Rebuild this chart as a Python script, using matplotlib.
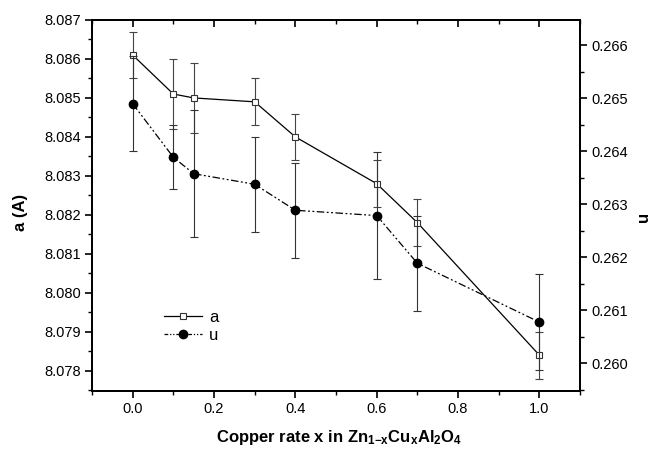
import matplotlib
matplotlib.use("Agg")
import matplotlib.pyplot as plt
from matplotlib.ticker import MultipleLocator, FormatStrFormatter

plt.rcParams['font.family'] = ['Liberation Sans', 'DejaVu Sans']
plt.rcParams['mathtext.fontset'] = 'custom'
plt.rcParams['mathtext.rm'] = 'Liberation Sans:bold'
plt.rcParams['mathtext.bf'] = 'Liberation Sans:bold'
plt.rcParams['mathtext.default'] = 'bf'

# copper rate x
x = [0.0, 0.1, 0.15, 0.3, 0.4, 0.6, 0.7, 1.0]
# lattice parameter a (left axis)
a = [8.0861, 8.0851, 8.0850, 8.0849, 8.0840, 8.0828, 8.0818, 8.0784]
a_err = [0.0006, 0.0009, 0.0009, 0.0006, 0.0006, 0.0006, 0.0006, 0.0006]
# oxygen parameter u (right axis)
u = [0.26490, 0.26389, 0.26358, 0.26338, 0.26289, 0.26279, 0.26189, 0.26078]
u_err = [0.0009, 0.0006, 0.0012, 0.0009, 0.0009, 0.0012, 0.0009, 0.0009]

fig = plt.figure(figsize=(6.54, 4.5), dpi=100)
ax = fig.add_axes([0.1407, 0.1311, 0.7462, 0.8245])
ax2 = ax.twinx()

# series a: open squares, solid line
la = ax.errorbar(x, a, yerr=a_err, color='black', lw=0.9, marker='s', ms=5,
                 mfc='white', mec='#333333', mew=0.8, ecolor='#444444',
                 elinewidth=0.8, capsize=3, capthick=0.8, label='a')
# series u: filled circles, dash-dot-dot line
lu = ax2.errorbar(x, u, yerr=u_err, color='black', lw=0.9, marker='o', ms=6,
                  mfc='black', mec='black', ecolor='#333333',
                  elinewidth=0.8, capsize=3, capthick=0.8, label='u')
lu[0].set_dashes([6, 2, 1.5, 2, 1.5, 2])

ax.set_xlim(-0.1, 1.1)
ax.set_ylim(8.07748, 8.0870)
ax2.set_ylim(0.25948, 0.26648)

ax.xaxis.set_major_locator(MultipleLocator(0.2))
ax.xaxis.set_minor_locator(MultipleLocator(0.1))
ax.xaxis.set_major_formatter(FormatStrFormatter('%.1f'))
ax.yaxis.set_major_locator(MultipleLocator(0.001))
ax.yaxis.set_minor_locator(MultipleLocator(0.0005))
ax.yaxis.set_major_formatter(FormatStrFormatter('%.3f'))
ax2.yaxis.set_major_locator(MultipleLocator(0.001))
ax2.yaxis.set_minor_locator(MultipleLocator(0.0005))
ax2.yaxis.set_major_formatter(FormatStrFormatter('%.3f'))

ax.tick_params(axis='both', which='major', direction='out', length=5, width=1.2,
               labelsize=10.5, pad=3)
ax.tick_params(axis='both', which='minor', direction='out', length=3, width=1.0)
ax2.tick_params(axis='y', which='major', direction='out', length=5, width=1.2,
                labelsize=10.5, pad=3)
ax2.tick_params(axis='y', which='minor', direction='out', length=3, width=1.0)

# top axis: inward ticks, no labels
top = ax.secondary_xaxis('top')
top.xaxis.set_major_locator(MultipleLocator(0.2))
top.xaxis.set_minor_locator(MultipleLocator(0.1))
top.tick_params(which='major', direction='in', length=5, width=1.2, labeltop=False)
top.tick_params(which='minor', direction='in', length=3, width=1.0)
top.spines['top'].set_linewidth(1.3)

for s in ax.spines.values():
    s.set_linewidth(1.3)
for s in ax2.spines.values():
    s.set_linewidth(1.3)

fig.text(0.031, 0.527, 'a (A)', rotation=90, ha='center', va='center',
         fontsize=12, fontweight='bold')
fig.text(0.984, 0.518, 'u', rotation=90, ha='center', va='center',
         fontsize=12, fontweight='bold')
fig.text(0.518, 0.027, r'Copper rate x in Zn$_{1{-}x}$Cu$_x$Al$_2$O$_4$',
         ha='center', va='center', fontsize=12, fontweight='bold')

# legend uses only the data lines (no error bars), small markers
ha, = ax.plot([], [], color='black', lw=0.9, marker='s', ms=4, mfc='white',
              mec='#333333', mew=0.8)
hu, = ax.plot([], [], color='black', lw=0.9, marker='o', ms=6, mfc='black',
              mec='black', dashes=[3, 1.5, 1, 1.5, 1, 1.5])
ax2.legend([ha, hu], ['a', 'u'], loc='upper left', frameon=False, fontsize=12,
           bbox_to_anchor=(0.228, 0.345), bbox_transform=fig.transFigure,
           handlelength=2.3, handletextpad=0.4, labelspacing=0.2, numpoints=1)

fig.savefig('out.png', dpi=100)
